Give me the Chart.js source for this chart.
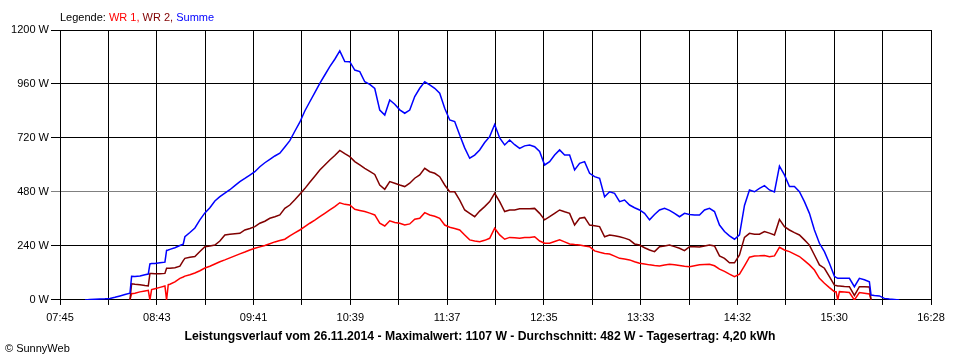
<!DOCTYPE html>
<html><head><meta charset="utf-8">
<script src="https://cdn.jsdelivr.net/npm/chart.js@4.4.1/dist/chart.umd.min.js"></script>
<style>
html,body{margin:0;padding:0;background:#fff;}
#wrap{position:relative;width:960px;height:360px;}
canvas{position:absolute;left:0;top:0;}
.txt{position:absolute;font:11px "Liberation Sans",Arial,sans-serif;line-height:13px;white-space:pre;color:#000;}
</style></head><body>
<div id="wrap">
<canvas id="c" width="960" height="360"></canvas>
<div class="txt" id="legend" style="left:60px;top:11px;"></div>
<div class="txt" id="copy" style="left:5px;top:342px;"></div>
</div>
<script>
const times = ['08:00','08:03','08:06','08:09','08:12','08:15','08:18','08:21','08:24','08:27','08:28','08:30','08:33','08:36','08:38','08:39','08:40','08:42','08:45','08:48','08:49','08:50','08:51','08:54','08:57','08:59',
'09:00','09:03','09:06','09:09','09:12','09:15','09:18','09:21','09:24','09:27','09:30','09:33','09:36','09:39','09:42','09:45','09:48','09:51','09:54','09:57',
'10:00','10:03','10:06','10:09','10:12','10:15','10:18','10:21','10:24','10:27','10:30','10:33','10:36','10:39','10:42','10:45','10:48','10:51','10:54','10:57',
'11:00','11:03','11:06','11:09','11:12','11:15','11:18','11:21','11:24','11:27','11:30','11:33','11:36','11:39','11:42','11:45','11:48','11:51','11:54','11:57',
'12:00','12:03','12:06','12:09','12:12','12:15','12:18','12:21','12:24','12:27','12:30','12:33','12:36','12:39','12:42','12:45','12:48','12:51','12:54','12:57',
'13:00','13:03','13:06','13:09','13:12','13:15','13:18','13:21','13:24','13:27','13:30','13:33','13:36','13:39','13:42','13:45','13:48','13:51','13:54','13:57',
'14:00','14:03','14:06','14:09','14:12','14:15','14:18','14:21','14:24','14:27','14:30','14:33','14:36','14:39','14:42','14:45','14:48','14:51','14:54','14:57',
'15:00','15:03','15:06','15:09','15:12','15:15','15:18','15:21','15:24','15:27','15:30','15:31','15:32','15:33','15:36','15:39','15:42','15:45','15:48','15:51','15:52','15:54','15:57',
'16:00','16:03','16:06','16:09'];

const wr1 = [null,null,null,null,null,null,null,null,null,0,28,30,36,40,43,0,46,50,56,62,0,68,70,80,96,102,
106,112,120,130,142,150,160,170,178,187,196,205,213,222,230,236,242,250,258,264,
270,285,298,311,326,341,355,370,385,400,415,432,425,422,403,398,393,386,378,341,
329,352,344,341,333,338,359,363,388,378,372,363,333,323,318,311,289,267,262,259,
265,274,319,289,270,278,276,274,278,278,281,262,252,252,260,267,258,249,246,244,
240,237,218,212,207,204,195,185,182,178,170,163,160,156,153,151,155,159,156,153,
150,148,152,156,158,159,152,137,127,115,104,115,152,190,195,196,198,192,196,234,
222,215,204,193,175,156,133,96,74,55,37,37,0,37,35,33,0,33,30,27,0,null,null,
null,null,null,null];

const wr2 = [null,null,null,null,null,null,null,null,null,0,72,70,68,64,62,118,118,117,116,118,141,141,141,143,150,175,
185,190,193,215,237,240,244,262,289,292,294,296,311,318,326,341,350,363,370,378,
407,422,445,470,495,523,550,578,600,622,642,665,650,637,615,600,585,572,558,511,
492,526,519,511,504,519,541,556,585,570,563,548,511,481,481,444,400,385,370,395,
415,437,474,437,393,400,400,405,405,405,407,385,356,370,385,400,392,385,333,363,
367,333,330,326,281,289,285,281,275,267,249,244,232,222,215,237,240,244,237,230,
219,237,237,235,240,244,240,196,185,165,165,200,278,296,292,292,304,297,289,358,
326,311,299,289,267,244,200,156,141,104,66,64,62,62,60,59,20,59,59,58,0,null,null,
null,null,null,null];

const summe = [0,2,3,4,5,7,12,18,24,30,105,104,107,112,115,160,162,162,165,168,220,222,225,232,242,248,
281,300,320,356,387,410,440,459,475,490,508,526,540,555,570,592,610,625,640,652,
680,708,750,790,840,881,922,963,1000,1037,1070,1107,1060,1059,1022,1015,970,958,940,844,
822,889,870,845,830,844,904,941,970,956,941,919,852,800,793,733,676,630,644,667,
700,726,780,720,689,711,690,674,685,689,681,660,600,615,644,667,644,644,578,607,
615,563,548,541,459,481,474,437,444,422,410,400,385,356,380,400,407,398,385,370,
385,380,378,378,400,407,393,333,304,285,270,289,420,489,481,496,508,489,480,595,
556,504,504,481,437,385,311,252,215,163,105,100,96,96,96,96,59,96,90,81,22,20,18,
7,4,2,0];

const yTicks = [0, 240, 480, 720, 960, 1200];
const xTickLabels = ['07:45','08:43','09:41','10:39','11:37','12:35','13:33','14:32','15:30','16:28'];
const durchschnitt = 482;
const titleText = 'Leistungsverlauf vom 26.11.2014 - Maximalwert: 1107 W - Durchschnitt: 482 W - Tagesertrag: 4,20 kWh';
const seriesNames = ['WR 1', 'WR 2', 'Summe'];
const seriesColors = ['#ff0000', '#800000', '#0000ff'];

// HTML legend and copyright text
const leg = document.getElementById('legend');
leg.appendChild(document.createTextNode('Legende: '));
seriesNames.forEach((n, i) => {
  const sp = document.createElement('span');
  sp.style.color = seriesColors[i];
  sp.textContent = n + (i < seriesNames.length - 1 ? ', ' : '');
  leg.appendChild(sp);
});
document.getElementById('copy').textContent = '\u00A9 SunnyWeb';

const toMin = s => { const p = s.split(':').map(Number); return p[0] * 60 + p[1]; };
const mk = vals => times.map((t, i) => ({ x: toMin(t), y: vals[i] }));
const xMin = toMin(xTickLabels[0]);
const xMax = toMin(xTickLabels[xTickLabels.length - 1]);
const nGrid = (xTickLabels.length - 1) * 2;
const avgGrid = yTicks.reduce((a, b) => Math.abs(b - durchschnitt) < Math.abs(a - durchschnitt) ? b : a);

Chart.defaults.font.family = '"Liberation Sans", Arial, sans-serif';
Chart.defaults.font.size = 11;
Chart.defaults.color = '#000';

const seriesData = [wr1, wr2, summe];
const datasets = [2, 1, 0].map(i => ({
  label: seriesNames[i],
  data: mk(seriesData[i]),
  borderColor: seriesColors[i],
  backgroundColor: seriesColors[i],
  borderWidth: 1.5,
  pointRadius: 0,
  tension: 0,
  fill: false,
  spanGaps: false
}));

new Chart(document.getElementById('c'), {
  type: 'line',
  data: { datasets },
  options: {
    responsive: false,
    animation: false,
    devicePixelRatio: 1,
    events: [],
    layout: { padding: { top: 30, left: 0, right: 0, bottom: 0 } },
    plugins: {
      legend: { display: false },
      tooltip: { enabled: false },
      title: {
        display: true, position: 'bottom', text: titleText, color: '#000',
        font: { size: 12.2, weight: 'bold' }, padding: { top: 0, bottom: 16 }
      }
    },
    scales: {
      x: {
        type: 'linear', min: xMin, max: xMax,
        afterBuildTicks: s => { s.ticks = Array.from({ length: nGrid + 1 }, (_, i) => ({ value: xMin + i * (xMax - xMin) / nGrid })); },
        afterFit: s => { s.height = 29.4; },
        ticks: { autoSkip: false, maxRotation: 0, minRotation: 0, padding: 6, color: '#000',
          callback: (v, i) => (i % 2 === 0 ? xTickLabels[i / 2] : '') },
        grid: { color: '#000', lineWidth: 1, tickLength: 5, drawTicks: true },
        border: { color: '#000', width: 1 }
      },
      y: {
        min: 0, max: 1200,
        afterBuildTicks: s => { s.ticks = yTicks.map(v => ({ value: v })); },
        afterFit: s => { s.width = 60; },
        ticks: { padding: 2, color: '#000', callback: v => v + ' W' },
        grid: { color: c => (c.tick && c.tick.value === avgGrid) ? '#808080' : '#000', lineWidth: 1, tickLength: 9 },
        border: { color: '#000', width: 1 }
      },
      yR: {
        position: 'right', display: true,
        afterFit: s => { s.width = 29; },
        grid: { display: false }, border: { display: false }, ticks: { display: false }
      }
    }
  }
});
</script>
</body></html>
